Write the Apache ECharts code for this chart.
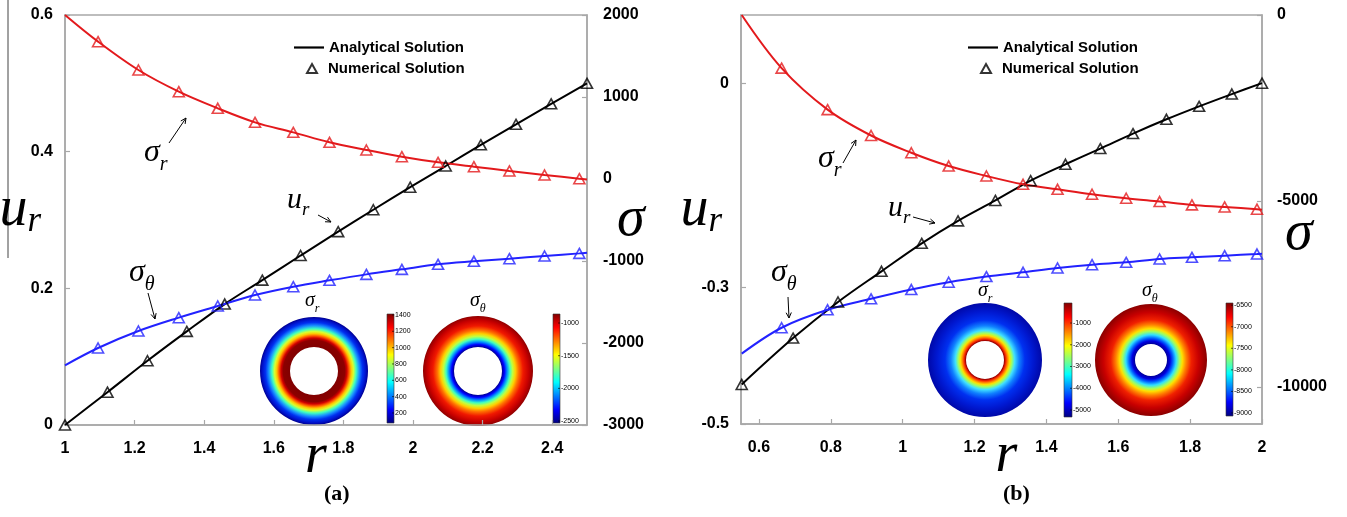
<!DOCTYPE html>
<html>
<head>
<meta charset="utf-8">
<script src="https://cdn.jsdelivr.net/npm/echarts@6.0.0/dist/echarts.min.js"></script>
<style>
  html, body { margin: 0; padding: 0; background: #fff; }
  #main { width: 1347px; height: 517px; }
</style>
</head>
<body>
<div id="main"></div>
<script>
// ---- panel (a): r from 1 to 2.5 ----
const rA_u = [1.0, 1.122, 1.237, 1.35, 1.459, 1.567, 1.677, 1.785, 1.886, 1.992, 2.094, 2.195, 2.296, 2.397, 2.5];
const uA = [0, 0.048, 0.094, 0.137, 0.177, 0.212, 0.248, 0.283, 0.315, 0.348, 0.379, 0.41, 0.44, 0.47, 0.5];
const rA_s = [1.095, 1.211, 1.327, 1.439, 1.546, 1.656, 1.76, 1.866, 1.968, 2.072, 2.175, 2.277, 2.378, 2.478];
const sigmaRA = [1675, 1329, 1065, 862, 691, 569, 447, 354, 272, 203, 150, 98, 49, 4];
const sigmaTA = [-2061, -1854, -1691, -1549, -1415, -1313, -1236, -1163, -1102, -1041, -1004, -972, -939, -907];
const rA_ends = [1, 2.5];
const sigmaRA_ends = [2000, -5];
const sigmaTA_ends = [-2272, -898];

// ---- panel (b): r from 0.55 to 2 ----
const rB_u = [0.552, 0.695, 0.82, 0.941, 1.053, 1.154, 1.258, 1.356, 1.453, 1.55, 1.641, 1.734, 1.825, 1.916, 2.0];
const uB = [-0.442, -0.374, -0.321, -0.276, -0.235, -0.202, -0.172, -0.143, -0.119, -0.096, -0.074, -0.053, -0.034, -0.016, 0];
const rB_s = [0.663, 0.791, 0.912, 1.024, 1.128, 1.233, 1.335, 1.431, 1.527, 1.622, 1.715, 1.805, 1.896, 1.986];
const sigmaRB = [-1429, -2545, -3241, -3705, -4063, -4330, -4554, -4688, -4821, -4929, -5018, -5107, -5161, -5223];
const sigmaTB = [-8411, -7929, -7634, -7384, -7188, -7036, -6920, -6804, -6714, -6652, -6563, -6518, -6473, -6429];
const rB_ends = [0.552, 2.0];
const sigmaRB_ends = [0, -5240];
const sigmaTB_ends = [-9107, -6420];

// ---- tick labels ----
const xTicksA = [1, 1.2, 1.4, 1.6, 1.8, 2, 2.2, 2.4];
const uTicksA = [0, 0.2, 0.4, 0.6];
const sTicksA = [-3000, -2000, -1000, 0, 1000, 2000];
const xTicksB = [0.6, 0.8, 1, 1.2, 1.4, 1.6, 1.8, 2];
const uTicksB = [-0.5, -0.3, 0];
const sTicksB = [-10000, -5000, 0];

// ---- colour bar labels of the insets ----
const cbarAr = [1400, 1200, 1000, 800, 600, 400, 200];
const cbarAt = [-1000, -1500, -2000, -2500];
const cbarBr = [-1000, -2000, -3000, -4000, -5000];
const cbarBt = [-6500, -7000, -7500, -8000, -8500, -9000];

const pairs = (xs, ys) => xs.map((x, i) => [x, ys[i]]);
const withEnds = (arr, ends) => [ends[0], ...arr, ends[1]];

const chart = echarts.init(document.getElementById('main'));

const gray = '#a8a8a8';
const serif = 'Liberation Serif';
const tickText = { fontFamily: 'Liberation Sans', fontWeight: 'bold', fontSize: 16, color: '#000' };
const RED = '#e3191c', BLUE = '#2222ff';

function axis(o) {
  const ticks = o.ticks;
  return {
    type: 'value', gridIndex: o.grid, position: o.position, min: o.min, max: o.max,
    axisLine: { show: true, onZero: false, lineStyle: { color: gray, width: 1.5 } },
    axisTick: { show: true, inside: true, length: 5, customValues: ticks, lineStyle: { color: gray, width: 1.2 } },
    axisLabel: Object.assign({ customValues: ticks, margin: o.margin, formatter: v => String(v) }, tickText),
    splitLine: { show: false },
    name: o.name, nameLocation: 'middle', nameRotate: 0, nameGap: o.nameGap, nameMoveOverlap: false,
    nameTextStyle: Object.assign({ color: '#000' }, o.nameStyle)
  };
}

// italic symbol with a subscript; drop = how far the subscript baseline sits below the main one (in em)
function symbolRich(size, drop) {
  const k = 0.62;
  const subPadTop = (0.32 + drop) * size;
  const subH = subPadTop + k * size;
  const H = Math.max(size, subH);
  return {
    m: { fontFamily: serif, fontStyle: 'italic', fontSize: size, lineHeight: size, padding: [0, 0, H - size, 0], color: '#000' },
    s: { fontFamily: serif, fontStyle: 'italic', fontSize: Math.round(k * size), lineHeight: k * size,
      padding: [subPadTop, 0, H - subH, 0], color: '#000' }
  };
}
// plain italic sigma, shifted down by 'shift' pixels
function sigmaRich(size, shift) {
  return { m: { fontFamily: serif, fontStyle: 'italic', fontSize: size, lineHeight: size, padding: [shift * 2, 0, 0, 0], color: '#000' } };
}

function lineSeries(name, x, y, xs, ys, color) {
  return { name, type: 'line', xAxisIndex: x, yAxisIndex: y, data: pairs(xs, ys), symbol: 'none', showSymbol: false,
    smooth: 0.35, lineStyle: { color, width: 2 }, itemStyle: { color }, z: 2 };
}
function markSeries(name, x, y, xs, ys, color) {
  return { name, type: 'scatter', xAxisIndex: x, yAxisIndex: y, data: pairs(xs, ys), symbol: 'triangle',
    symbolSize: [11, 10], itemStyle: { color: 'rgba(0,0,0,0)', borderColor: color, borderWidth: 1.6 }, z: 3 };
}

// ---- graphic helpers for the annotations and inset pictures ----
function label(x, y, main, sub, size, drop) {
  return { type: 'text', x, y, style: { text: '{m|' + main + '}{s|' + sub + '}', rich: symbolRich(size, drop) } };
}
function arrow(x1, y1, x2, y2) {
  const a = Math.atan2(y2 - y1, x2 - x1), h = 6;
  return [
    { type: 'line', shape: { x1, y1, x2, y2 }, style: { stroke: '#000', lineWidth: 1 } },
    { type: 'polyline', shape: { points: [
      [x2 - h * Math.cos(a - 0.45), y2 - h * Math.sin(a - 0.45)], [x2, y2],
      [x2 - h * Math.cos(a + 0.45), y2 - h * Math.sin(a + 0.45)]] },
      style: { stroke: '#000', lineWidth: 1, fill: null } }
  ];
}
function ring(cx, cy, r, r0, stops) {
  return { type: 'ring', shape: { cx, cy, r, r0 },
    style: { fill: { type: 'radial', x: 0.5, y: 0.5, r: 0.5,
      colorStops: stops.map(s => ({ offset: s[0], color: s[1] })) } } };
}
const jet = [[0, '#800000'], [0.125, '#ff0000'], [0.375, '#ffff00'], [0.625, '#00ffff'], [0.875, '#0000ff'], [1, '#000080']];
function colorbar(x, y, w, h, range, ticks) {
  const out = [{ type: 'rect', shape: { x, y, width: w, height: h },
    style: { fill: { type: 'linear', x: 0, y: 0, x2: 0, y2: 1,
      colorStops: jet.map(s => ({ offset: s[0], color: s[1] })) }, stroke: '#333', lineWidth: 0.6 } }];
  ticks.forEach(v => {
    const ty = y + (range[1] - v) / (range[1] - range[0]) * h;
    out.push({ type: 'line', shape: { x1: x + w - 2, y1: ty, x2: x + w, y2: ty }, style: { stroke: '#000', lineWidth: 0.6 } });
    out.push({ type: 'text', x: x + w + 1, y: ty, style: { text: String(v), fontFamily: 'Liberation Sans', fontSize: 7,
      fill: '#000', verticalAlign: 'middle' } });
  });
  return out;
}

const graphics = [
  { type: 'line', shape: { x1: 8, y1: 0, x2: 8, y2: 258 }, style: { stroke: '#444', lineWidth: 1 } },
  // panel (a) curve annotations
  label(144, 140, 'σ', 'r', 32, 0.25), ...arrow(169, 143, 186, 118),
  label(287, 187, 'u', 'r', 30, 0.2), ...arrow(318, 215, 331, 222),
  label(129, 260, 'σ', 'θ', 32, 0.25), ...arrow(148, 293, 155, 319),
  // panel (b) curve annotations
  label(818, 146, 'σ', 'r', 32, 0.25), ...arrow(843, 163, 856, 140),
  label(888, 195, 'u', 'r', 30, 0.2), ...arrow(913, 217, 935, 223),
  label(771, 260, 'σ', 'θ', 32, 0.25), ...arrow(788, 297, 789, 318),
  // panel (a) insets
  ring(314, 371, 54, 24, [[0.44, '#800000'], [0.57, '#8c0000'], [0.61, '#d00000'], [0.65, '#ff5a00'], [0.69, '#ffc800'],
    [0.73, '#d8ff30'], [0.78, '#40ffc0'], [0.84, '#1890ff'], [0.9, '#0030f0'], [0.96, '#0010c8'], [1, '#000090']]),
  label(305, 293, 'σ', 'r', 20, 0.25),
  ring(478, 371, 55, 24, [[0.435, '#000090'], [0.48, '#0000ff'], [0.53, '#0090ff'], [0.58, '#40ffc0'], [0.63, '#c0ff40'],
    [0.68, '#ffd000'], [0.74, '#ff7000'], [0.82, '#f01800'], [0.92, '#c80000'], [1, '#900000']]),
  label(470, 293, 'σ', 'θ', 20, 0.25),
  ...colorbar(387, 314, 7, 109, [77, 1412], cbarAr),
  ...colorbar(553, 314, 7, 109, [-2530, -862], cbarAt),
  // panel (b) insets
  ring(985, 360, 57, 19, [[0.31, '#800000'], [0.34, '#a00000'], [0.37, '#ff3000'], [0.4, '#ff9000'], [0.43, '#ffe000'],
    [0.47, '#a0ff60'], [0.52, '#40e0ff'], [0.6, '#1080ff'], [0.7, '#0030f0'], [0.85, '#0018d0'], [1, '#0008a8']]),
  label(978, 283, 'σ', 'r', 20, 0.25),
  ring(1151, 360, 56, 16, [[0.28, '#000090'], [0.34, '#0000e0'], [0.39, '#0060ff'], [0.45, '#30e0ff'], [0.51, '#a0ff60'],
    [0.56, '#ffe000'], [0.63, '#ff8000'], [0.72, '#f02000'], [0.85, '#c80000'], [1, '#8a0000']]),
  label(1142, 283, 'σ', 'θ', 20, 0.25),
  ...colorbar(1064, 303, 8, 114, [-5320, -80], cbarBr),
  ...colorbar(1226, 303, 7, 113, [-9070, -6450], cbarBt)
];

const legendText = { fontFamily: 'Liberation Sans', fontWeight: 'bold', fontSize: 15, color: '#000' };
function legend(left, top, name, w, h, icon, textPad) {
  return { left, top, data: [{ name, icon }], itemWidth: w, itemHeight: h, padding: 0,
    textStyle: Object.assign({ padding: [0, 0, 0, textPad] }, legendText), selectedMode: false };
}
const lineIcon = 'path://M0 0H30V2.2H0Z';

const option = {
  animation: false,
  backgroundColor: '#fff',
  grid: [
    { left: 65, top: 15, width: 522, height: 410, show: true, borderColor: gray, borderWidth: 1.5, outerBoundsMode: 'none' },
    { left: 741, top: 15, width: 521, height: 409, show: true, borderColor: gray, borderWidth: 1.5, outerBoundsMode: 'none' }
  ],
  title: [
    { text: '(a)', left: 324, top: 483, padding: 0, textStyle: { fontFamily: serif, fontWeight: 'bold', fontSize: 22, color: '#000' } },
    { text: '(b)', left: 1003, top: 483, padding: 0, textStyle: { fontFamily: serif, fontWeight: 'bold', fontSize: 22, color: '#000' } }
  ],
  legend: [
    legend(294, 40, 'Analytical Solution', 30, 2.2, lineIcon, 0),
    legend(306, 61, 'Numerical Solution', 10, 9, undefined, 6),
    legend(968, 40, 'Analytical Solution', 30, 2.2, lineIcon, 0),
    legend(980, 61, 'Numerical Solution', 10, 9, undefined, 6)
  ],
  xAxis: [
    axis({ grid: 0, position: 'bottom', min: 1, max: 2.5, ticks: xTicksA, margin: 16, name: 'r', nameGap: 4,
      nameStyle: { fontFamily: serif, fontStyle: 'italic', fontSize: 56, padding: [0, 20, 0, 0] } }),
    axis({ grid: 1, position: 'bottom', min: 0.55, max: 2, ticks: xTicksB, margin: 16, name: 'r', nameGap: 4,
      nameStyle: { fontFamily: serif, fontStyle: 'italic', fontSize: 56, padding: [0, 0, 0, 10] } })
  ],
  yAxis: [
    axis({ grid: 0, position: 'left', min: 0, max: 0.6, ticks: uTicksA, margin: 12, name: '{m|u}{s|r}', nameGap: 24,
      nameStyle: { align: 'right', verticalAlign: 'middle', padding: [0, 0, 18, 0], rich: symbolRich(56, 0.08) } }),
    axis({ grid: 0, position: 'right', min: -3000, max: 2000, ticks: sTicksA, margin: 16, name: '{m|σ}', nameGap: 30,
      nameStyle: { align: 'left', verticalAlign: 'middle', rich: sigmaRich(56, 0) } }),
    axis({ grid: 1, position: 'left', min: -0.5, max: 0.1, ticks: uTicksB, margin: 12, name: '{m|u}{s|r}', nameGap: 19,
      nameStyle: { align: 'right', verticalAlign: 'middle', padding: [0, 0, 18, 0], rich: symbolRich(56, 0.08) } }),
    axis({ grid: 1, position: 'right', min: -11000, max: 0, ticks: sTicksB, margin: 15, name: '{m|σ}', nameGap: 23,
      nameStyle: { align: 'left', verticalAlign: 'middle', rich: sigmaRich(56, 15) } })
  ],
  series: [
    lineSeries('Analytical Solution', 0, 0, rA_u, uA, '#000'),
    lineSeries('σr analytical (a)', 0, 1, withEnds(rA_s, rA_ends), withEnds(sigmaRA, sigmaRA_ends), RED),
    lineSeries('σθ analytical (a)', 0, 1, withEnds(rA_s, rA_ends), withEnds(sigmaTA, sigmaTA_ends), BLUE),
    markSeries('Numerical Solution', 0, 0, rA_u, uA, '#000'),
    markSeries('σr numerical (a)', 0, 1, rA_s, sigmaRA, RED),
    markSeries('σθ numerical (a)', 0, 1, rA_s, sigmaTA, BLUE),
    lineSeries('ur analytical (b)', 1, 2, rB_u, uB, '#000'),
    lineSeries('σr analytical (b)', 1, 3, withEnds(rB_s, rB_ends), withEnds(sigmaRB, sigmaRB_ends), RED),
    lineSeries('σθ analytical (b)', 1, 3, withEnds(rB_s, rB_ends), withEnds(sigmaTB, sigmaTB_ends), BLUE),
    markSeries('ur numerical (b)', 1, 2, rB_u, uB, '#000'),
    markSeries('σr numerical (b)', 1, 3, rB_s, sigmaRB, RED),
    markSeries('σθ numerical (b)', 1, 3, rB_s, sigmaTB, BLUE)
  ],
  graphic: graphics
};

chart.setOption(option);
</script>
</body>
</html>
